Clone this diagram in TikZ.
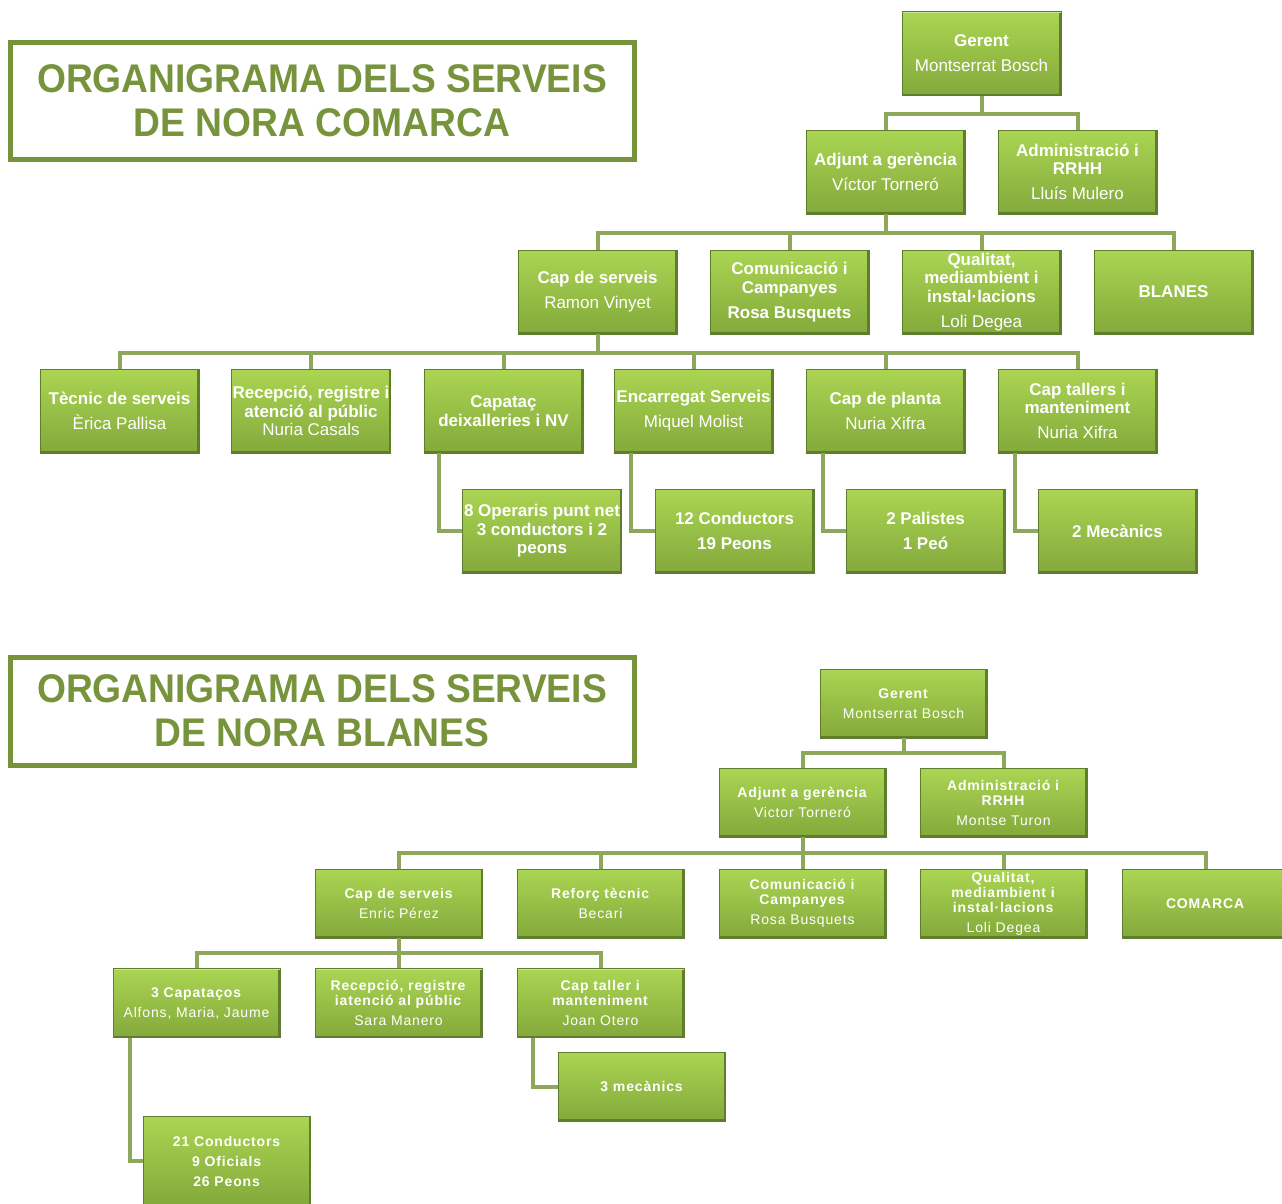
\documentclass[tikz,border=0pt]{standalone}
\usepackage{fontspec}
\setmainfont{Liberation Sans}
\newfontfamily\titlefont[FakeStretch=0.93]{Liberation Sans}
\newfontfamily\spacedfont[LetterSpace=6]{Liberation Sans}
\definecolor{boxtop}{HTML}{ABD553}
\definecolor{boxbot}{HTML}{83A93B}
\definecolor{boxdark}{HTML}{5F7D2C}
\definecolor{boxlight}{HTML}{C8E890}
\definecolor{conncol}{HTML}{8DA85A}
\definecolor{titlecol}{HTML}{77933C}
\tikzset{
  orgbox/.style={rectangle, inner sep=0pt, minimum width=159, minimum height=84,
    top color=boxtop, bottom color=boxbot, draw=boxdark, line width=0.6pt,
    text=white, align=center, font=\fontsize{17}{18.5}\selectfont,
    path picture={
      \draw[boxdark, line width=3.5pt] (path picture bounding box.south west) -- (path picture bounding box.south east) -- (path picture bounding box.north east);
      \draw[boxlight, line width=2pt] (path picture bounding box.north west) -- (path picture bounding box.north east);
    }},
  smallbox/.style={orgbox, minimum width=167, minimum height=69, font=\spacedfont\fontsize{14}{15}\selectfont},
  conn/.style={draw=conncol, line width=4pt},
  titlebox/.style={rectangle, draw=titlecol, line width=5pt, fill=white, text=titlecol,
    align=center, minimum width=624, font=\titlefont\bfseries\fontsize{40}{44}\selectfont}
}
\begin{document}
\begin{tikzpicture}[x=1pt,y=-1pt]
\useasboundingbox[fill=white] (0,0) rectangle (1282,1203);

% ===== Top chart =====
\node[titlebox, minimum height=117] (t1) at (322,100.5) {ORGANIGRAMA DELS SERVEIS\\DE NORA COMARCA};

\node[orgbox] (g1) at (981.5,53.5) {\textbf{Gerent}\\[6.5pt]Montserrat Bosch};
\node[orgbox] (a1) at (885.5,172) {\textbf{Adjunt a gerència}\\[6.5pt]Víctor Torneró};
\node[orgbox] (r1) at (1077.5,172) {\textbf{Administració i}\\\textbf{RRHH}\\[6.5pt]Lluís Mulero};

\node[orgbox] (c1) at (597.5,292) {\textbf{Cap de serveis}\\[6.5pt]Ramon Vinyet};
\node[orgbox] (m1) at (789.5,292) {\textbf{Comunicació i}\\\textbf{Campanyes}\\[6.5pt]\textbf{Rosa Busquets}};
\node[orgbox] (q1) at (981.5,292) {\textbf{Qualitat,}\\\textbf{mediambient i}\\\textbf{instal·lacions}\\[6.5pt]Loli Degea};
\node[orgbox] (b1) at (1173.5,292) {\textbf{BLANES}};

\node[orgbox] (tc) at (119.5,411) {\textbf{Tècnic de serveis}\\[6.5pt]Èrica Pallisa};
\node[orgbox] (rc) at (311,411) {\textbf{Recepció, registre i}\\\textbf{atenció al públic}\\Nuria Casals};
\node[orgbox] (cp) at (503.5,411) {\textbf{Capataç}\\\textbf{deixalleries i NV}};
\node[orgbox] (en) at (693.5,411) {\textbf{Encarregat Serveis}\\[6.5pt]Miquel Molist};
\node[orgbox] (pl) at (885.5,411) {\textbf{Cap de planta}\\[6.5pt]Nuria Xifra};
\node[orgbox] (ct) at (1077.5,411) {\textbf{Cap tallers i}\\\textbf{manteniment}\\[6.5pt]Nuria Xifra};

\node[orgbox] (op) at (542,531) {\textbf{8 Operaris punt net}\\\textbf{3 conductors i 2}\\\textbf{peons}};
\node[orgbox] (co) at (734.5,531) {\textbf{12 Conductors}\\[6.5pt]\textbf{19 Peons}};
\node[orgbox] (pa) at (925.5,531) {\textbf{2 Palistes}\\[6.5pt]\textbf{1 Peó}};
\node[orgbox] (me) at (1117.5,531) {\textbf{2 Mecànics}};

\draw[conn] (g1.south) -- ++(0,18) -| (a1.north);
\draw[conn] (g1.south) -- ++(0,18) -| (r1.north);
\foreach \n in {c1,m1,q1,b1} \draw[conn] (a1.south) -- ++(0,19) -| (\n.north);
\foreach \n in {tc,rc,cp,en,pl,ct} \draw[conn] (c1.south) -- ++(0,19) -| (\n.north);
\draw[conn] ([xshift=15pt]cp.south west) |- (op.west);
\draw[conn] ([xshift=17pt]en.south west) |- (co.west);
\draw[conn] ([xshift=17pt]pl.south west) |- (pa.west);
\draw[conn] ([xshift=17pt]ct.south west) |- (me.west);

% ===== Bottom chart =====
\node[titlebox, minimum height=108] (t2) at (322,711) {ORGANIGRAMA DELS SERVEIS\\DE NORA BLANES};

\node[smallbox] (bg) at (903.5,703.5) {\textbf{Gerent}\\[5pt]Montserrat Bosch};
\node[smallbox] (ba) at (802.5,802.5) {\textbf{Adjunt a gerència}\\[5pt]Victor Torneró};
\node[smallbox] (br) at (1003.5,802.5) {\textbf{Administració i}\\\textbf{RRHH}\\[5pt]Montse Turon};

\node[smallbox] (bc) at (399,903.5) {\textbf{Cap de serveis}\\[5pt]Enric Pérez};
\node[smallbox] (bf) at (600.5,903.5) {\textbf{Reforç tècnic}\\[5pt]Becari};
\node[smallbox] (bm) at (802.5,903.5) {\textbf{Comunicació i}\\\textbf{Campanyes}\\[5pt]Rosa Busquets};
\node[smallbox] (bq) at (1003.5,903.5) {\textbf{Qualitat,}\\\textbf{mediambient i}\\\textbf{instal·lacions}\\[5pt]Loli Degea};
\node[smallbox] (bk) at (1205.5,903.5) {\textbf{COMARCA}};

\node[smallbox] (b3) at (196.5,1003) {\textbf{3 Capataços}\\[5pt]Alfons, Maria, Jaume};
\node[smallbox] (bre) at (398.5,1003) {\textbf{Recepció, registre}\\\textbf{iatenció al públic}\\[5pt]Sara Manero};
\node[smallbox] (bt) at (600.5,1003) {\textbf{Cap taller i}\\\textbf{manteniment}\\[5pt]Joan Otero};

\node[smallbox] (bme) at (642,1086.5) {\textbf{3 mecànics}};
\node[smallbox, minimum height=90] (bcd) at (227,1161) {\textbf{21 Conductors}\\[5pt]\textbf{9 Oficials}\\[5pt]\textbf{26 Peons}};

\draw[conn] (bg.south) -- ++(0,15) -| (ba.north);
\draw[conn] (bg.south) -- ++(0,15) -| (br.north);
\foreach \n in {bc,bf,bm,bq,bk} \draw[conn] (ba.south) -- ++(0,16) -| (\n.north);
\foreach \n in {b3,bre,bt} \draw[conn] (bc.south) -- ++(0,15) -| (\n.north);
\draw[conn] ([xshift=16pt]bt.south west) |- (bme.west);
\draw[conn] ([xshift=17pt]b3.south west) |- (bcd.west);
\end{tikzpicture}
\end{document}
